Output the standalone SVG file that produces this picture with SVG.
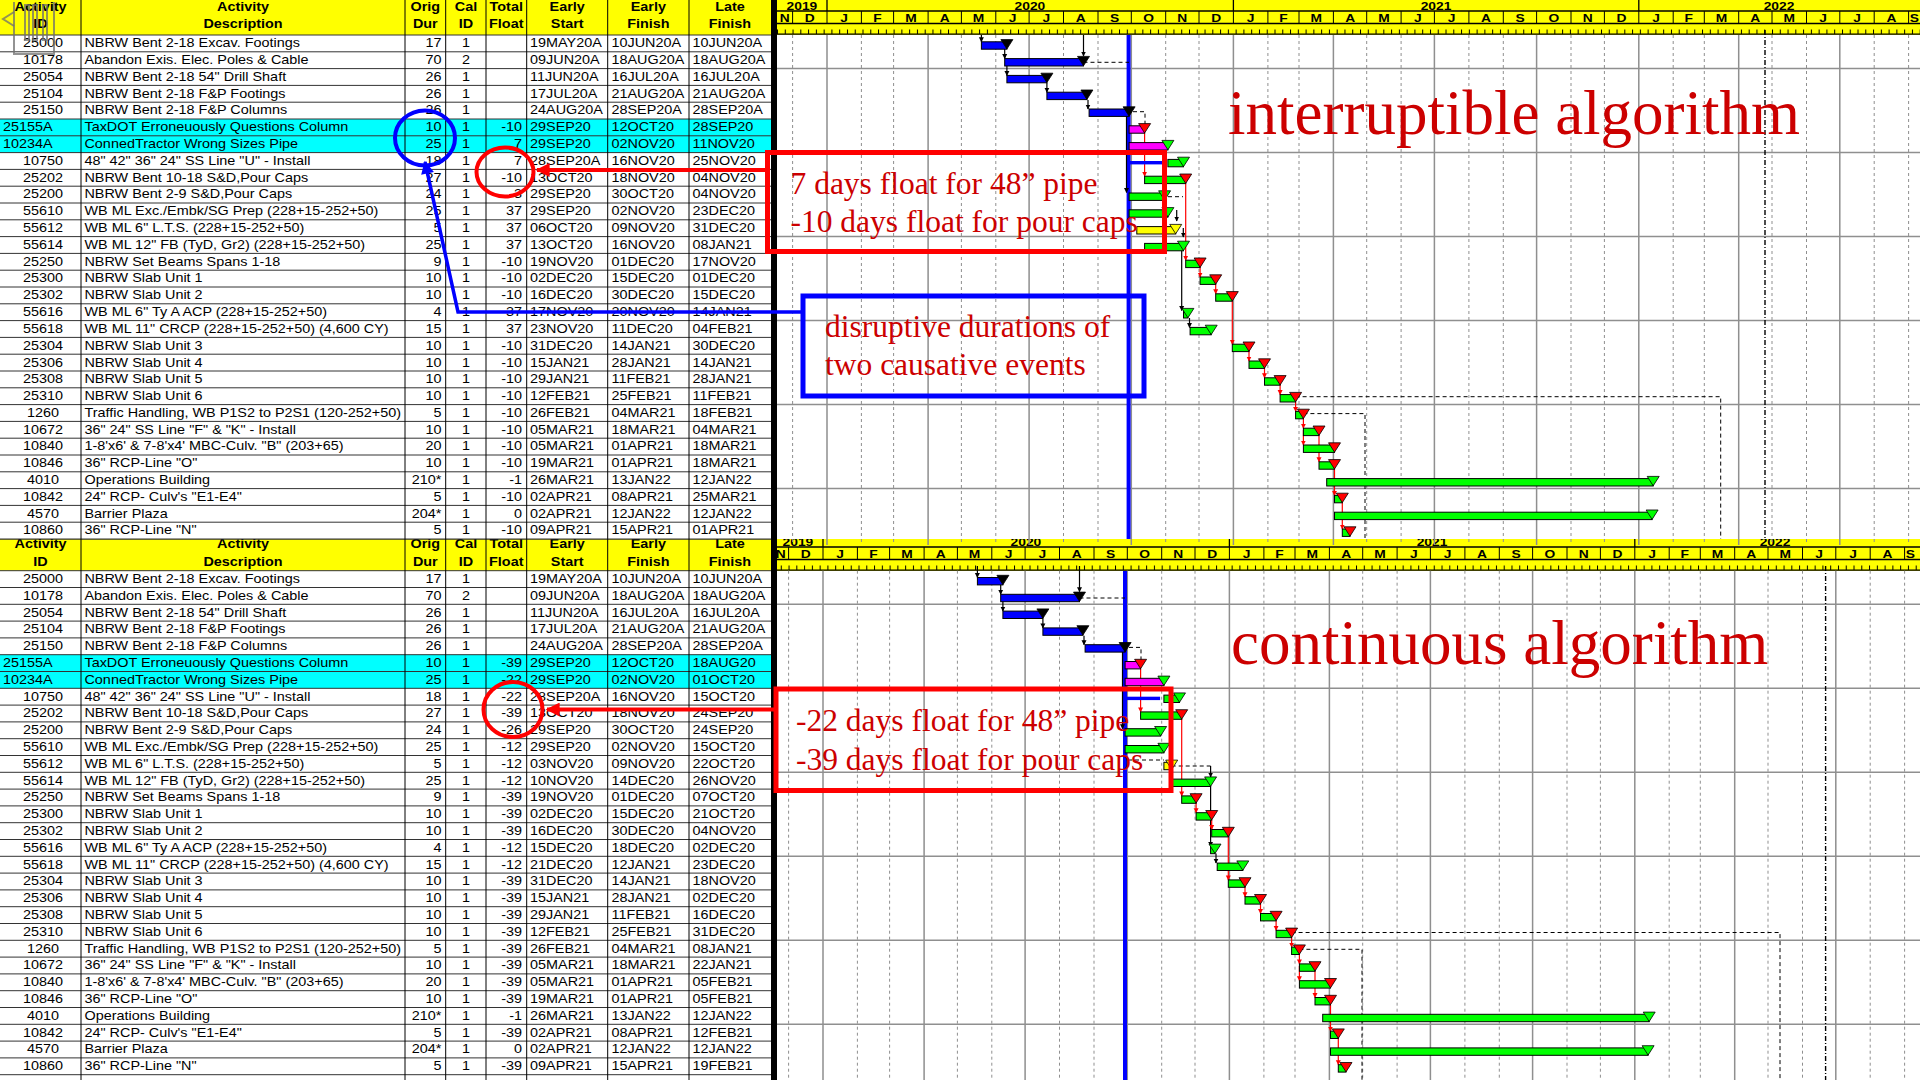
<svg xmlns="http://www.w3.org/2000/svg" xmlns:xlink="http://www.w3.org/1999/xlink" width="1920" height="1080" viewBox="0 0 1920 1080">
<style>
.tx{font-family:"Liberation Sans",Arial,sans-serif;font-size:12px;fill:#000}
.hd{font-family:"Liberation Sans",Arial,sans-serif;font-size:12px;font-weight:bold;fill:#000}
.c{text-anchor:middle}
.r{text-anchor:end}
.mo{font-family:"Liberation Sans",Arial,sans-serif;font-size:11.5px;font-weight:bold;fill:#000;text-anchor:middle}
.gs{stroke:#8f8f8f;stroke-width:1.5;fill:none}
.gd{stroke:#8f8f8f;stroke-width:1;stroke-dasharray:3 3;fill:none}
.bb{fill:#0000ff;stroke:#000;stroke-width:1}
.bg{fill:#00ff00;stroke:#000;stroke-width:1}
.bp{fill:#ff00ff;stroke:#000;stroke-width:1}
.by{fill:#ffff00;stroke:#000;stroke-width:1}
.tk{fill:#000;stroke:#000;stroke-width:.8}
.tr{fill:#ff0000;stroke:#000;stroke-width:.8}
.tg{fill:#00ff00;stroke:#000;stroke-width:.8}
.ty{fill:#ffff00;stroke:#000;stroke-width:.8}
.lk{stroke:#000;stroke-width:1.2;fill:none;marker-end:url(#mk)}
.lr{stroke:#ff0000;stroke-width:1.2;fill:none;marker-end:url(#mr)}
.ld{stroke:#000;stroke-width:1;fill:none;stroke-dasharray:4 3}
.dd{stroke:#000;stroke-width:1.4;fill:none;stroke-dasharray:5 2 1 2}
.dl{stroke:#0000ff;stroke-width:4;fill:none}
.rl{stroke:#333;stroke-width:1;fill:none}
.sf{font-family:"Liberation Serif","Times New Roman",serif;fill:#cc0000}
</style>
<defs>
<pattern id="tick" x="777" y="0" width="7.7735" height="2000" patternUnits="userSpaceOnUse"><rect width="1" height="2000" fill="#000"/></pattern>
<marker id="mk" viewBox="0 0 10 10" refX="9" refY="5" markerWidth="5" markerHeight="6" markerUnits="userSpaceOnUse" orient="auto"><path d="M0,0L10,5L0,10z" fill="#000"/></marker>
<marker id="mr" viewBox="0 0 10 10" refX="9" refY="5" markerWidth="5" markerHeight="6" markerUnits="userSpaceOnUse" orient="auto"><path d="M0,0L10,5L0,10z" fill="#ff0000"/></marker>
<marker id="mR" viewBox="0 0 10 10" refX="9" refY="5" markerWidth="15" markerHeight="14" markerUnits="userSpaceOnUse" orient="auto"><path d="M0,0L10,5L0,10z" fill="#ff0000"/></marker>
<marker id="mB" viewBox="0 0 10 10" refX="9" refY="5" markerWidth="16" markerHeight="13" markerUnits="userSpaceOnUse" orient="auto-start-reverse"><path d="M0,0L10,5L0,10z" fill="#0000ff"/></marker>
<path id="tri" d="M-6,4.6H6L0,14Z"/>
<g id="grid">
<path class="gd" d="M792.6 0V510M861.4 0V510M893.6 0V510M961.4 0V510M995.8 0V510M1063.5 0V510M1098 0V510M1165.7 0V510M1199 0V510M1267.9 0V510M1299 0V510M1366.7 0V510M1401.1 0V510M1468.9 0V510M1503.3 0V510M1571 0V510M1604.4 0V510M1673.2 0V510M1704.3 0V510M1772 0V510M1806.5 0V510M1874.2 0V510M1908.6 0V510"/>
<path class="gs" d="M827 0V510M928.1 0V510M1029.1 0V510M1131.3 0V510M1233.4 0V510M1333.4 0V510M1434.4 0V510M1536.6 0V510M1638.8 0V510M1738.7 0V510M1839.8 0V510M777 33.6H1930M777 117.6H1930M777 201.6H1930M777 285.6H1930M777 369.6H1930M777 453.6H1930"/>
</g>
<g id="hdr">
<rect x="777" y="-35" width="1150" height="35" fill="#ffff00"/>
<rect x="777" y="-5.5" width="1150" height="4.5" fill="url(#tick)"/>
<path d="M777 -24H1927M777 -11.5H1927M777 -0.8H1927" stroke="#000" stroke-width="1.3" fill="none"/>
<path d="M827 -35V-24M1233.4 -35V-24M1638.8 -35V-24" stroke="#000" stroke-width="1.3" fill="none"/>
<path d="M792.6 -24V-11.5M827 -24V-11.5M861.4 -24V-11.5M893.6 -24V-11.5M928.1 -24V-11.5M961.4 -24V-11.5M995.8 -24V-11.5M1029.1 -24V-11.5M1063.5 -24V-11.5M1098 -24V-11.5M1131.3 -24V-11.5M1165.7 -24V-11.5M1199 -24V-11.5M1233.4 -24V-11.5M1267.9 -24V-11.5M1299 -24V-11.5M1333.4 -24V-11.5M1366.7 -24V-11.5M1401.1 -24V-11.5M1434.4 -24V-11.5M1468.9 -24V-11.5M1503.3 -24V-11.5M1536.6 -24V-11.5M1571 -24V-11.5M1604.4 -24V-11.5M1638.8 -24V-11.5M1673.2 -24V-11.5M1704.3 -24V-11.5M1738.7 -24V-11.5M1772 -24V-11.5M1806.5 -24V-11.5M1839.8 -24V-11.5M1874.2 -24V-11.5M1908.6 -24V-11.5" stroke="#000" stroke-width="1" fill="none"/>
<g transform="scale(1.2,1)">
<text class="mo" y="-25.5"><tspan x="668.3">2019</tspan><tspan x="858.3">2020</tspan><tspan x="1196.7">2021</tspan><tspan x="1482.5">2022</tspan></text>
<text class="mo" y="-13.5"><tspan x="654">N</tspan><tspan x="674.8">D</tspan><tspan x="703.5">J</tspan><tspan x="731.25">F</tspan><tspan x="759.1">M</tspan><tspan x="787.3">A</tspan><tspan x="815.5">M</tspan><tspan x="843.75">J</tspan><tspan x="871.9">J</tspan><tspan x="900.7">A</tspan><tspan x="928.9">S</tspan><tspan x="957.1">O</tspan><tspan x="985.3">N</tspan><tspan x="1013.5">D</tspan><tspan x="1042.25">J</tspan><tspan x="1069.6">F</tspan><tspan x="1096.8">M</tspan><tspan x="1125.1">A</tspan><tspan x="1153.25">M</tspan><tspan x="1181.5">J</tspan><tspan x="1209.75">J</tspan><tspan x="1238.4">A</tspan><tspan x="1266.7">S</tspan><tspan x="1294.8">O</tspan><tspan x="1323.1">N</tspan><tspan x="1351.3">D</tspan><tspan x="1380">J</tspan><tspan x="1407.3">F</tspan><tspan x="1434.6">M</tspan><tspan x="1462.8">A</tspan><tspan x="1491.1">M</tspan><tspan x="1519.3">J</tspan><tspan x="1547.5">J</tspan><tspan x="1576.2">A</tspan><tspan x="1595.25">S</tspan></text>
</g>
</g>
</defs>
<rect width="1920" height="1080" fill="#fff"/>

<!-- ================= BOTTOM SECTION: continuous algorithm ================= -->
<g id="bottom-section">
<rect x="0" y="539" width="771" height="31.7" fill="#ffff00"/>
<rect x="0" y="654.7" width="771" height="33.6" fill="#00ffff"/>
<use href="#hdr" transform="translate(-4,571)"/>
<use href="#grid" transform="translate(-4,570.7)"/>
<path class="dl" d="M1125 571V1080"/>
<path class="dd" d="M1825.6 566V1080"/>
<g id="bottom-links">
<path class="ld" d="M1079.5 598H1125M1129 647.4H1141V661M1128 760H1163.9M1171.7 766H1210.6M1291.6 932.5H1780V1080M1299.4 949.3H1362V1080"/>
<path class="lk" d="M977.4 566V577.5"/><path class="lk" d="M1000.7 584.7V594.3"/><path class="lk" d="M1002.9 598.7V611.1"/><path class="lk" d="M1042.9 618.7V627.9"/><path class="lk" d="M1084 635.7V644.7"/><path class="lk" d="M1079.5 566V591.7"/><path class="lk" d="M1122.5 651.7V728.7"/><path class="lk" d="M1210.6 766V777"/><path class="lk" d="M1210.6 786.3V846.3"/><path class="lk" d="M1216 853.5V863.1"/>
<path class="lr" d="M1140.6 668.7V711.9"/><path class="lr" d="M1181.7 719.1V795.9"/><path class="lr" d="M1196.1 803.1V812.7"/><path class="lr" d="M1211.7 819.9V829.5"/><path class="lr" d="M1228.3 836.7V879.9"/><path class="lr" d="M1245 887.1V896.7"/><path class="lr" d="M1260.5 903.9V913.5"/><path class="lr" d="M1276.1 920.7V930.3"/><path class="lr" d="M1291.6 937.5V947.1"/><path class="lr" d="M1299.4 954.3V963.9"/><path class="lr" d="M1299.4 966V980.7"/><path class="lr" d="M1315 971.1V997.5"/><path class="lr" d="M1330.5 1004.7V1031.1"/><path class="lr" d="M1338.3 1038.3V1064.7"/>
</g>
<g id="bottom-bars">
<g id="bb-25000"><rect class="bb" x="977.4" y="577.5" width="25.5" height="7.4"/><use href="#tri" class="tk" x="1002.9" y="570.7"/></g>
<g id="bb-10178"><rect class="bb" x="1000.7" y="594.3" width="78.8" height="7.4"/><use href="#tri" class="tk" x="1079.5" y="587.5"/></g>
<g id="bb-25054"><rect class="bb" x="1002.9" y="611.1" width="40" height="7.4"/><use href="#tri" class="tk" x="1042.9" y="604.3"/></g>
<g id="bb-25104"><rect class="bb" x="1042.9" y="627.9" width="40" height="7.4"/><use href="#tri" class="tk" x="1082.9" y="621.1"/></g>
<g id="bb-25150"><rect class="bb" x="1085.1" y="644.7" width="40" height="7.4"/><use href="#tri" class="tk" x="1125.1" y="637.9"/></g>
<g id="bb-25155A"><rect class="bp" x="1125.1" y="661.5" width="15.5" height="7.4"/><use href="#tri" class="tr" x="1140.6" y="654.7"/></g>
<g id="bb-10234A"><rect class="bp" x="1125.1" y="678.3" width="38.8" height="7.4"/><use href="#tri" class="tg" x="1163.9" y="671.5"/></g>
<g id="bb-10750"><rect x="1125.1" y="696.7" width="35" height="3.4" fill="#0000ff"/><rect class="bg" x="1163.9" y="695.1" width="15.6" height="7.4"/><use href="#tri" class="tg" x="1179.5" y="688.3"/></g>
<g id="bb-25202"><rect class="bg" x="1140.6" y="711.9" width="41.1" height="7.4"/><use href="#tri" class="tr" x="1181.7" y="705.1"/></g>
<g id="bb-25200"><rect class="bg" x="1125.1" y="728.7" width="35.5" height="7.4"/><use href="#tri" class="tg" x="1160.6" y="721.9"/></g>
<g id="bb-55610"><rect class="bg" x="1125.1" y="745.5" width="38.8" height="7.4"/><use href="#tri" class="tg" x="1163.9" y="738.7"/></g>
<g id="bb-55612"><rect class="by" x="1163.9" y="762.3" width="7.8" height="7.4"/><use href="#tri" class="ty" x="1171.7" y="755.5"/></g>
<g id="bb-55614"><rect class="bg" x="1171.7" y="779.1" width="38.9" height="7.4"/><use href="#tri" class="tg" x="1210.6" y="772.3"/></g>
<g id="bb-25250"><rect class="bg" x="1181.7" y="795.9" width="14.4" height="7.4"/><use href="#tri" class="tr" x="1196.1" y="789.1"/></g>
<g id="bb-25300"><rect class="bg" x="1196.1" y="812.7" width="15.6" height="7.4"/><use href="#tri" class="tr" x="1211.7" y="805.9"/></g>
<g id="bb-25302"><rect class="bg" x="1211.7" y="829.5" width="16.6" height="7.4"/><use href="#tri" class="tr" x="1228.3" y="822.7"/></g>
<g id="bb-55616"><rect class="bg" x="1210.6" y="846.3" width="4.4" height="7.4"/><use href="#tri" class="tg" x="1215" y="839.5"/></g>
<g id="bb-55618"><rect class="bg" x="1217.2" y="863.1" width="25.6" height="7.4"/><use href="#tri" class="tg" x="1242.8" y="856.3"/></g>
<g id="bb-25304"><rect class="bg" x="1228.3" y="879.9" width="16.7" height="7.4"/><use href="#tri" class="tr" x="1245" y="873.1"/></g>
<g id="bb-25306"><rect class="bg" x="1245" y="896.7" width="15.5" height="7.4"/><use href="#tri" class="tr" x="1260.5" y="889.9"/></g>
<g id="bb-25308"><rect class="bg" x="1260.5" y="913.5" width="15.6" height="7.4"/><use href="#tri" class="tr" x="1276.1" y="906.7"/></g>
<g id="bb-25310"><rect class="bg" x="1276.1" y="930.3" width="15.5" height="7.4"/><use href="#tri" class="tr" x="1291.6" y="923.5"/></g>
<g id="bb-1260"><rect class="bg" x="1291.6" y="947.1" width="7.8" height="7.4"/><use href="#tri" class="tr" x="1299.4" y="940.3"/></g>
<g id="bb-10672"><rect class="bg" x="1299.4" y="963.9" width="15.6" height="7.4"/><use href="#tri" class="tr" x="1315" y="957.1"/></g>
<g id="bb-10840"><rect class="bg" x="1299.4" y="980.7" width="31.1" height="7.4"/><use href="#tri" class="tr" x="1330.5" y="973.9"/></g>
<g id="bb-10846"><rect class="bg" x="1315" y="997.5" width="15.5" height="7.4"/><use href="#tri" class="tr" x="1330.5" y="990.7"/></g>
<g id="bb-4010"><rect class="bg" x="1322.7" y="1014.3" width="326.5" height="7.4"/><use href="#tri" class="tg" x="1649.2" y="1007.5"/></g>
<g id="bb-10842"><rect class="bg" x="1330.5" y="1031.1" width="7.8" height="7.4"/><use href="#tri" class="tr" x="1338.3" y="1024.3"/></g>
<g id="bb-4570"><rect class="bg" x="1330.5" y="1047.9" width="317.6" height="7.4"/><use href="#tri" class="tg" x="1648.1" y="1041.1"/></g>
<g id="bb-10860"><rect class="bg" x="1338.3" y="1064.7" width="7.7" height="7.4"/><use href="#tri" class="tr" x="1346" y="1057.9"/></g>
</g>
<path class="rl" d="M0 539H771M0 570.7H771M0 587.5H771M0 604.3H771M0 621.1H771M0 637.9H771M0 654.7H771M0 671.5H771M0 688.3H771M0 705.1H771M0 721.9H771M0 738.7H771M0 755.5H771M0 772.3H771M0 789.1H771M0 805.9H771M0 822.7H771M0 839.5H771M0 856.3H771M0 873.1H771M0 889.9H771M0 906.7H771M0 923.5H771M0 940.3H771M0 957.1H771M0 973.9H771M0 990.7H771M0 1007.5H771M0 1024.3H771M0 1041.1H771M0 1057.9H771M0 1074.7H771"/>
<g id="bottom-table-text" class="tx" transform="scale(1.2,1)">
<text class="hd" y="548.5"><tspan class="c" x="33.75">Activity</tspan><tspan class="c" x="202.5">Activity</tspan><tspan class="c" x="354.4">Orig</tspan><tspan class="c" x="388.3">Cal</tspan><tspan class="c" x="421.9">Total</tspan><tspan class="c" x="472.7">Early</tspan><tspan class="c" x="540.3">Early</tspan><tspan class="c" x="608.3">Late</tspan></text>
<text class="hd" y="566"><tspan class="c" x="33.75">ID</tspan><tspan class="c" x="202.5">Description</tspan><tspan class="c" x="354.4">Dur</tspan><tspan class="c" x="388.3">ID</tspan><tspan class="c" x="421.9">Float</tspan><tspan class="c" x="472.7">Start</tspan><tspan class="c" x="540.3">Finish</tspan><tspan class="c" x="608.3">Finish</tspan></text>
<g id="b-25000"><text y="583"><tspan class="c" x="35.8">25000</tspan><tspan x="70.4">NBRW Bent 2-18 Excav. Footings</tspan><tspan class="r" x="367.9">17</tspan><tspan class="c" x="388.3">1</tspan><tspan x="441.7">19MAY20A</tspan><tspan x="509.6">10JUN20A</tspan><tspan x="577.1">10JUN20A</tspan></text></g>
<g id="b-10178"><text y="599.8"><tspan class="c" x="35.8">10178</tspan><tspan x="70.4">Abandon Exis. Elec. Poles &amp; Cable</tspan><tspan class="r" x="367.9">70</tspan><tspan class="c" x="388.3">2</tspan><tspan x="441.7">09JUN20A</tspan><tspan x="509.6">18AUG20A</tspan><tspan x="577.1">18AUG20A</tspan></text></g>
<g id="b-25054"><text y="616.6"><tspan class="c" x="35.8">25054</tspan><tspan x="70.4">NBRW Bent 2-18 54" Drill Shaft</tspan><tspan class="r" x="367.9">26</tspan><tspan class="c" x="388.3">1</tspan><tspan x="441.7">11JUN20A</tspan><tspan x="509.6">16JUL20A</tspan><tspan x="577.1">16JUL20A</tspan></text></g>
<g id="b-25104"><text y="633.4"><tspan class="c" x="35.8">25104</tspan><tspan x="70.4">NBRW Bent 2-18 F&amp;P Footings</tspan><tspan class="r" x="367.9">26</tspan><tspan class="c" x="388.3">1</tspan><tspan x="441.7">17JUL20A</tspan><tspan x="509.6">21AUG20A</tspan><tspan x="577.1">21AUG20A</tspan></text></g>
<g id="b-25150"><text y="650.2"><tspan class="c" x="35.8">25150</tspan><tspan x="70.4">NBRW Bent 2-18 F&amp;P Columns</tspan><tspan class="r" x="367.9">26</tspan><tspan class="c" x="388.3">1</tspan><tspan x="441.7">24AUG20A</tspan><tspan x="509.6">28SEP20A</tspan><tspan x="577.1">28SEP20A</tspan></text></g>
<g id="b-25155A"><text y="667"><tspan x="2.5">25155A</tspan><tspan x="70.4">TaxDOT Erroneuously Questions Column</tspan><tspan class="r" x="367.9">10</tspan><tspan class="c" x="388.3">1</tspan><tspan class="r" x="435">-39</tspan><tspan x="441.7">29SEP20</tspan><tspan x="509.6">12OCT20</tspan><tspan x="577.1">18AUG20</tspan></text></g>
<g id="b-10234A"><text y="683.8"><tspan x="2.5">10234A</tspan><tspan x="70.4">ConnedTractor Wrong Sizes Pipe</tspan><tspan class="r" x="367.9">25</tspan><tspan class="c" x="388.3">1</tspan><tspan class="r" x="435">-22</tspan><tspan x="441.7">29SEP20</tspan><tspan x="509.6">02NOV20</tspan><tspan x="577.1">01OCT20</tspan></text></g>
<g id="b-10750"><text y="700.6"><tspan class="c" x="35.8">10750</tspan><tspan x="70.4">48" 42" 36" 24" SS Line "U" - Install</tspan><tspan class="r" x="367.9">18</tspan><tspan class="c" x="388.3">1</tspan><tspan class="r" x="435">-22</tspan><tspan x="441.7">28SEP20A</tspan><tspan x="509.6">16NOV20</tspan><tspan x="577.1">15OCT20</tspan></text></g>
<g id="b-25202"><text y="717.4"><tspan class="c" x="35.8">25202</tspan><tspan x="70.4">NBRW Bent 10-18 S&amp;D,Pour Caps</tspan><tspan class="r" x="367.9">27</tspan><tspan class="c" x="388.3">1</tspan><tspan class="r" x="435">-39</tspan><tspan x="441.7">13OCT20</tspan><tspan x="509.6">18NOV20</tspan><tspan x="577.1">24SEP20</tspan></text></g>
<g id="b-25200"><text y="734.2"><tspan class="c" x="35.8">25200</tspan><tspan x="70.4">NBRW Bent 2-9 S&amp;D,Pour Caps</tspan><tspan class="r" x="367.9">24</tspan><tspan class="c" x="388.3">1</tspan><tspan class="r" x="435">-26</tspan><tspan x="441.7">29SEP20</tspan><tspan x="509.6">30OCT20</tspan><tspan x="577.1">24SEP20</tspan></text></g>
<g id="b-55610"><text y="751"><tspan class="c" x="35.8">55610</tspan><tspan x="70.4">WB ML Exc./Embk/SG Prep (228+15-252+50)</tspan><tspan class="r" x="367.9">25</tspan><tspan class="c" x="388.3">1</tspan><tspan class="r" x="435">-12</tspan><tspan x="441.7">29SEP20</tspan><tspan x="509.6">02NOV20</tspan><tspan x="577.1">15OCT20</tspan></text></g>
<g id="b-55612"><text y="767.8"><tspan class="c" x="35.8">55612</tspan><tspan x="70.4">WB ML 6" L.T.S. (228+15-252+50)</tspan><tspan class="r" x="367.9">5</tspan><tspan class="c" x="388.3">1</tspan><tspan class="r" x="435">-12</tspan><tspan x="441.7">03NOV20</tspan><tspan x="509.6">09NOV20</tspan><tspan x="577.1">22OCT20</tspan></text></g>
<g id="b-55614"><text y="784.6"><tspan class="c" x="35.8">55614</tspan><tspan x="70.4">WB ML 12" FB (TyD, Gr2) (228+15-252+50)</tspan><tspan class="r" x="367.9">25</tspan><tspan class="c" x="388.3">1</tspan><tspan class="r" x="435">-12</tspan><tspan x="441.7">10NOV20</tspan><tspan x="509.6">14DEC20</tspan><tspan x="577.1">26NOV20</tspan></text></g>
<g id="b-25250"><text y="801.4"><tspan class="c" x="35.8">25250</tspan><tspan x="70.4">NBRW Set Beams Spans 1-18</tspan><tspan class="r" x="367.9">9</tspan><tspan class="c" x="388.3">1</tspan><tspan class="r" x="435">-39</tspan><tspan x="441.7">19NOV20</tspan><tspan x="509.6">01DEC20</tspan><tspan x="577.1">07OCT20</tspan></text></g>
<g id="b-25300"><text y="818.2"><tspan class="c" x="35.8">25300</tspan><tspan x="70.4">NBRW Slab Unit 1</tspan><tspan class="r" x="367.9">10</tspan><tspan class="c" x="388.3">1</tspan><tspan class="r" x="435">-39</tspan><tspan x="441.7">02DEC20</tspan><tspan x="509.6">15DEC20</tspan><tspan x="577.1">21OCT20</tspan></text></g>
<g id="b-25302"><text y="835"><tspan class="c" x="35.8">25302</tspan><tspan x="70.4">NBRW Slab Unit 2</tspan><tspan class="r" x="367.9">10</tspan><tspan class="c" x="388.3">1</tspan><tspan class="r" x="435">-39</tspan><tspan x="441.7">16DEC20</tspan><tspan x="509.6">30DEC20</tspan><tspan x="577.1">04NOV20</tspan></text></g>
<g id="b-55616"><text y="851.8"><tspan class="c" x="35.8">55616</tspan><tspan x="70.4">WB ML 6" Ty A ACP (228+15-252+50)</tspan><tspan class="r" x="367.9">4</tspan><tspan class="c" x="388.3">1</tspan><tspan class="r" x="435">-12</tspan><tspan x="441.7">15DEC20</tspan><tspan x="509.6">18DEC20</tspan><tspan x="577.1">02DEC20</tspan></text></g>
<g id="b-55618"><text y="868.6"><tspan class="c" x="35.8">55618</tspan><tspan x="70.4">WB ML 11" CRCP (228+15-252+50) (4,600 CY)</tspan><tspan class="r" x="367.9">15</tspan><tspan class="c" x="388.3">1</tspan><tspan class="r" x="435">-12</tspan><tspan x="441.7">21DEC20</tspan><tspan x="509.6">12JAN21</tspan><tspan x="577.1">23DEC20</tspan></text></g>
<g id="b-25304"><text y="885.4"><tspan class="c" x="35.8">25304</tspan><tspan x="70.4">NBRW Slab Unit 3</tspan><tspan class="r" x="367.9">10</tspan><tspan class="c" x="388.3">1</tspan><tspan class="r" x="435">-39</tspan><tspan x="441.7">31DEC20</tspan><tspan x="509.6">14JAN21</tspan><tspan x="577.1">18NOV20</tspan></text></g>
<g id="b-25306"><text y="902.2"><tspan class="c" x="35.8">25306</tspan><tspan x="70.4">NBRW Slab Unit 4</tspan><tspan class="r" x="367.9">10</tspan><tspan class="c" x="388.3">1</tspan><tspan class="r" x="435">-39</tspan><tspan x="441.7">15JAN21</tspan><tspan x="509.6">28JAN21</tspan><tspan x="577.1">02DEC20</tspan></text></g>
<g id="b-25308"><text y="919"><tspan class="c" x="35.8">25308</tspan><tspan x="70.4">NBRW Slab Unit 5</tspan><tspan class="r" x="367.9">10</tspan><tspan class="c" x="388.3">1</tspan><tspan class="r" x="435">-39</tspan><tspan x="441.7">29JAN21</tspan><tspan x="509.6">11FEB21</tspan><tspan x="577.1">16DEC20</tspan></text></g>
<g id="b-25310"><text y="935.8"><tspan class="c" x="35.8">25310</tspan><tspan x="70.4">NBRW Slab Unit 6</tspan><tspan class="r" x="367.9">10</tspan><tspan class="c" x="388.3">1</tspan><tspan class="r" x="435">-39</tspan><tspan x="441.7">12FEB21</tspan><tspan x="509.6">25FEB21</tspan><tspan x="577.1">31DEC20</tspan></text></g>
<g id="b-1260"><text y="952.6"><tspan class="c" x="35.8">1260</tspan><tspan x="70.4">Traffic Handling, WB P1S2 to P2S1 (120-252+50)</tspan><tspan class="r" x="367.9">5</tspan><tspan class="c" x="388.3">1</tspan><tspan class="r" x="435">-39</tspan><tspan x="441.7">26FEB21</tspan><tspan x="509.6">04MAR21</tspan><tspan x="577.1">08JAN21</tspan></text></g>
<g id="b-10672"><text y="969.4"><tspan class="c" x="35.8">10672</tspan><tspan x="70.4">36" 24" SS Line "F" &amp; "K" - Install</tspan><tspan class="r" x="367.9">10</tspan><tspan class="c" x="388.3">1</tspan><tspan class="r" x="435">-39</tspan><tspan x="441.7">05MAR21</tspan><tspan x="509.6">18MAR21</tspan><tspan x="577.1">22JAN21</tspan></text></g>
<g id="b-10840"><text y="986.2"><tspan class="c" x="35.8">10840</tspan><tspan x="70.4">1-8'x6' &amp; 7-8'x4' MBC-Culv. "B" (203+65)</tspan><tspan class="r" x="367.9">20</tspan><tspan class="c" x="388.3">1</tspan><tspan class="r" x="435">-39</tspan><tspan x="441.7">05MAR21</tspan><tspan x="509.6">01APR21</tspan><tspan x="577.1">05FEB21</tspan></text></g>
<g id="b-10846"><text y="1003"><tspan class="c" x="35.8">10846</tspan><tspan x="70.4">36" RCP-Line "O"</tspan><tspan class="r" x="367.9">10</tspan><tspan class="c" x="388.3">1</tspan><tspan class="r" x="435">-39</tspan><tspan x="441.7">19MAR21</tspan><tspan x="509.6">01APR21</tspan><tspan x="577.1">05FEB21</tspan></text></g>
<g id="b-4010"><text y="1019.8"><tspan class="c" x="35.8">4010</tspan><tspan x="70.4">Operations Building</tspan><tspan class="r" x="367.9">210*</tspan><tspan class="c" x="388.3">1</tspan><tspan class="r" x="435">-1</tspan><tspan x="441.7">26MAR21</tspan><tspan x="509.6">13JAN22</tspan><tspan x="577.1">12JAN22</tspan></text></g>
<g id="b-10842"><text y="1036.6"><tspan class="c" x="35.8">10842</tspan><tspan x="70.4">24" RCP- Culv's "E1-E4"</tspan><tspan class="r" x="367.9">5</tspan><tspan class="c" x="388.3">1</tspan><tspan class="r" x="435">-39</tspan><tspan x="441.7">02APR21</tspan><tspan x="509.6">08APR21</tspan><tspan x="577.1">12FEB21</tspan></text></g>
<g id="b-4570"><text y="1053.4"><tspan class="c" x="35.8">4570</tspan><tspan x="70.4">Barrier Plaza</tspan><tspan class="r" x="367.9">204*</tspan><tspan class="c" x="388.3">1</tspan><tspan class="r" x="435">0</tspan><tspan x="441.7">02APR21</tspan><tspan x="509.6">12JAN22</tspan><tspan x="577.1">12JAN22</tspan></text></g>
<g id="b-10860"><text y="1070.2"><tspan class="c" x="35.8">10860</tspan><tspan x="70.4">36" RCP-Line "N"</tspan><tspan class="r" x="367.9">5</tspan><tspan class="c" x="388.3">1</tspan><tspan class="r" x="435">-39</tspan><tspan x="441.7">09APR21</tspan><tspan x="509.6">15APR21</tspan><tspan x="577.1">19FEB21</tspan></text></g>
</g>
</g>

<!-- ================= TOP SECTION: interruptible algorithm ================= -->
<g id="top-section">
<rect x="0" y="0" width="1920" height="539" fill="#fff"/>
<rect x="0" y="0" width="771" height="35" fill="#ffff00"/>
<rect x="0" y="119" width="771" height="33.6" fill="#00ffff"/>
<use href="#hdr" transform="translate(0,35)"/>
<use href="#grid" transform="translate(0,35)"/>
<path class="dl" d="M1128.6 35V539"/>
<path class="dd" d="M1765 30V539"/>
<g id="top-links">
<path class="ld" d="M1083.5 62.3H1129M1133 111.7H1145V125M1168 196.7H1183M1295.6 396.7H1720.7V539M1303.4 413.6H1365V539"/>
<path class="lk" d="M981.4 35V41.8"/><path class="lk" d="M1004.7 49V58.6"/><path class="lk" d="M1006.9 63V75.4"/><path class="lk" d="M1046.9 83V92.2"/><path class="lk" d="M1088 100V109"/><path class="lk" d="M1083.5 35V56"/><path class="lk" d="M1126.5 116V192.5"/><path class="lk" d="M1176.7 210V221"/><path class="lk" d="M1183.3 228V237"/><path class="lk" d="M1181.7 250.6V310.6"/><path class="lk" d="M1189.5 318V327.4"/>
<path class="lr" d="M1144.6 133V176.2"/><path class="lr" d="M1185.7 183.4V260.2"/><path class="lr" d="M1200.1 267.4V277"/><path class="lr" d="M1215.7 284.2V293.8"/><path class="lr" d="M1232.3 301V344.2"/><path class="lr" d="M1249 351.4V361"/><path class="lr" d="M1264.5 368.2V377.8"/><path class="lr" d="M1280.1 385V394.6"/><path class="lr" d="M1295.6 401.8V411.4"/><path class="lr" d="M1303.4 418.6V428.2"/><path class="lr" d="M1303.4 430V445"/><path class="lr" d="M1319 435.4V461.8"/><path class="lr" d="M1334.5 469V495.4"/><path class="lr" d="M1342.3 502.6V529"/>
</g>
<g id="top-bars">
<g id="tb-25000"><rect class="bb" x="981.4" y="41.8" width="25.5" height="7.4"/><use href="#tri" class="tk" x="1006.9" y="35"/></g>
<g id="tb-10178"><rect class="bb" x="1004.7" y="58.6" width="78.8" height="7.4"/><use href="#tri" class="tk" x="1083.5" y="51.8"/></g>
<g id="tb-25054"><rect class="bb" x="1006.9" y="75.4" width="40" height="7.4"/><use href="#tri" class="tk" x="1046.9" y="68.6"/></g>
<g id="tb-25104"><rect class="bb" x="1046.9" y="92.2" width="40" height="7.4"/><use href="#tri" class="tk" x="1086.9" y="85.4"/></g>
<g id="tb-25150"><rect class="bb" x="1089.1" y="109" width="40" height="7.4"/><use href="#tri" class="tk" x="1129.1" y="102.2"/></g>
<g id="tb-25155A"><rect class="bp" x="1129.1" y="125.8" width="15.5" height="7.4"/><use href="#tri" class="tr" x="1144.6" y="119"/></g>
<g id="tb-10234A"><rect class="bp" x="1129.1" y="142.6" width="38.8" height="7.4"/><use href="#tri" class="tg" x="1167.9" y="135.8"/></g>
<g id="tb-10750"><rect x="1129.1" y="161" width="35" height="3.4" fill="#0000ff"/><rect class="bg" x="1167.9" y="159.4" width="15.6" height="7.4"/><use href="#tri" class="tg" x="1183.5" y="152.6"/></g>
<g id="tb-25202"><rect class="bg" x="1144.6" y="176.2" width="41.1" height="7.4"/><use href="#tri" class="tr" x="1185.7" y="169.4"/></g>
<g id="tb-25200"><rect class="bg" x="1129.1" y="193" width="35.5" height="7.4"/><use href="#tri" class="tg" x="1164.6" y="186.2"/></g>
<g id="tb-55610"><rect class="bg" x="1129.1" y="209.8" width="38.8" height="7.4"/><use href="#tri" class="tg" x="1167.9" y="203"/></g>
<g id="tb-55612"><rect class="by" x="1136.8" y="226.6" width="38.9" height="7.4"/><use href="#tri" class="ty" x="1175.7" y="219.8"/></g>
<g id="tb-55614"><rect class="bg" x="1144.6" y="243.4" width="38.9" height="7.4"/><use href="#tri" class="tg" x="1183.5" y="236.6"/></g>
<g id="tb-25250"><rect class="bg" x="1185.7" y="260.2" width="14.4" height="7.4"/><use href="#tri" class="tr" x="1200.1" y="253.4"/></g>
<g id="tb-25300"><rect class="bg" x="1200.1" y="277" width="15.6" height="7.4"/><use href="#tri" class="tr" x="1215.7" y="270.2"/></g>
<g id="tb-25302"><rect class="bg" x="1215.7" y="293.8" width="16.6" height="7.4"/><use href="#tri" class="tr" x="1232.3" y="287"/></g>
<g id="tb-55616"><rect class="bg" x="1183.5" y="310.6" width="4.4" height="7.4"/><use href="#tri" class="tg" x="1187.9" y="303.8"/></g>
<g id="tb-55618"><rect class="bg" x="1190.1" y="327.4" width="21.1" height="7.4"/><use href="#tri" class="tg" x="1211.2" y="320.6"/></g>
<g id="tb-25304"><rect class="bg" x="1232.3" y="344.2" width="16.7" height="7.4"/><use href="#tri" class="tr" x="1249" y="337.4"/></g>
<g id="tb-25306"><rect class="bg" x="1249" y="361" width="15.5" height="7.4"/><use href="#tri" class="tr" x="1264.5" y="354.2"/></g>
<g id="tb-25308"><rect class="bg" x="1264.5" y="377.8" width="15.6" height="7.4"/><use href="#tri" class="tr" x="1280.1" y="371"/></g>
<g id="tb-25310"><rect class="bg" x="1280.1" y="394.6" width="15.5" height="7.4"/><use href="#tri" class="tr" x="1295.6" y="387.8"/></g>
<g id="tb-1260"><rect class="bg" x="1295.6" y="411.4" width="7.8" height="7.4"/><use href="#tri" class="tr" x="1303.4" y="404.6"/></g>
<g id="tb-10672"><rect class="bg" x="1303.4" y="428.2" width="15.6" height="7.4"/><use href="#tri" class="tr" x="1319" y="421.4"/></g>
<g id="tb-10840"><rect class="bg" x="1303.4" y="445" width="31.1" height="7.4"/><use href="#tri" class="tr" x="1334.5" y="438.2"/></g>
<g id="tb-10846"><rect class="bg" x="1319" y="461.8" width="15.5" height="7.4"/><use href="#tri" class="tr" x="1334.5" y="455"/></g>
<g id="tb-4010"><rect class="bg" x="1326.7" y="478.6" width="326.5" height="7.4"/><use href="#tri" class="tg" x="1653.2" y="471.8"/></g>
<g id="tb-10842"><rect class="bg" x="1334.5" y="495.4" width="7.8" height="7.4"/><use href="#tri" class="tr" x="1342.3" y="488.6"/></g>
<g id="tb-4570"><rect class="bg" x="1334.5" y="512.2" width="317.6" height="7.4"/><use href="#tri" class="tg" x="1652.1" y="505.4"/></g>
<g id="tb-10860"><rect class="bg" x="1342.3" y="529" width="7.7" height="7.4"/><use href="#tri" class="tr" x="1350" y="522.2"/></g>
</g>
<path class="rl" d="M0 35H771M0 51.8H771M0 68.6H771M0 85.4H771M0 102.2H771M0 119H771M0 135.8H771M0 152.6H771M0 169.4H771M0 186.2H771M0 203H771M0 219.8H771M0 236.6H771M0 253.4H771M0 270.2H771M0 287H771M0 303.8H771M0 320.6H771M0 337.4H771M0 354.2H771M0 371H771M0 387.8H771M0 404.6H771M0 421.4H771M0 438.2H771M0 455H771M0 471.8H771M0 488.6H771M0 505.4H771M0 522.2H771M0 539H771"/>
<g id="top-table-text" class="tx" transform="scale(1.2,1)">
<text class="hd" y="11.5"><tspan class="c" x="33.75">Activity</tspan><tspan class="c" x="202.5">Activity</tspan><tspan class="c" x="354.4">Orig</tspan><tspan class="c" x="388.3">Cal</tspan><tspan class="c" x="421.9">Total</tspan><tspan class="c" x="472.7">Early</tspan><tspan class="c" x="540.3">Early</tspan><tspan class="c" x="608.3">Late</tspan></text>
<text class="hd" y="28.5"><tspan class="c" x="33.75">ID</tspan><tspan class="c" x="202.5">Description</tspan><tspan class="c" x="354.4">Dur</tspan><tspan class="c" x="388.3">ID</tspan><tspan class="c" x="421.9">Float</tspan><tspan class="c" x="472.7">Start</tspan><tspan class="c" x="540.3">Finish</tspan><tspan class="c" x="608.3">Finish</tspan></text>
<g id="t-25000"><text y="47.3"><tspan class="c" x="35.8">25000</tspan><tspan x="70.4">NBRW Bent 2-18 Excav. Footings</tspan><tspan class="r" x="367.9">17</tspan><tspan class="c" x="388.3">1</tspan><tspan x="441.7">19MAY20A</tspan><tspan x="509.6">10JUN20A</tspan><tspan x="577.1">10JUN20A</tspan></text></g>
<g id="t-10178"><text y="64.1"><tspan class="c" x="35.8">10178</tspan><tspan x="70.4">Abandon Exis. Elec. Poles &amp; Cable</tspan><tspan class="r" x="367.9">70</tspan><tspan class="c" x="388.3">2</tspan><tspan x="441.7">09JUN20A</tspan><tspan x="509.6">18AUG20A</tspan><tspan x="577.1">18AUG20A</tspan></text></g>
<g id="t-25054"><text y="80.9"><tspan class="c" x="35.8">25054</tspan><tspan x="70.4">NBRW Bent 2-18 54" Drill Shaft</tspan><tspan class="r" x="367.9">26</tspan><tspan class="c" x="388.3">1</tspan><tspan x="441.7">11JUN20A</tspan><tspan x="509.6">16JUL20A</tspan><tspan x="577.1">16JUL20A</tspan></text></g>
<g id="t-25104"><text y="97.7"><tspan class="c" x="35.8">25104</tspan><tspan x="70.4">NBRW Bent 2-18 F&amp;P Footings</tspan><tspan class="r" x="367.9">26</tspan><tspan class="c" x="388.3">1</tspan><tspan x="441.7">17JUL20A</tspan><tspan x="509.6">21AUG20A</tspan><tspan x="577.1">21AUG20A</tspan></text></g>
<g id="t-25150"><text y="114.5"><tspan class="c" x="35.8">25150</tspan><tspan x="70.4">NBRW Bent 2-18 F&amp;P Columns</tspan><tspan class="r" x="367.9">26</tspan><tspan class="c" x="388.3">1</tspan><tspan x="441.7">24AUG20A</tspan><tspan x="509.6">28SEP20A</tspan><tspan x="577.1">28SEP20A</tspan></text></g>
<g id="t-25155A"><text y="131.3"><tspan x="2.5">25155A</tspan><tspan x="70.4">TaxDOT Erroneuously Questions Column</tspan><tspan class="r" x="367.9">10</tspan><tspan class="c" x="388.3">1</tspan><tspan class="r" x="435">-10</tspan><tspan x="441.7">29SEP20</tspan><tspan x="509.6">12OCT20</tspan><tspan x="577.1">28SEP20</tspan></text></g>
<g id="t-10234A"><text y="148.1"><tspan x="2.5">10234A</tspan><tspan x="70.4">ConnedTractor Wrong Sizes Pipe</tspan><tspan class="r" x="367.9">25</tspan><tspan class="c" x="388.3">1</tspan><tspan class="r" x="435">7</tspan><tspan x="441.7">29SEP20</tspan><tspan x="509.6">02NOV20</tspan><tspan x="577.1">11NOV20</tspan></text></g>
<g id="t-10750"><text y="164.9"><tspan class="c" x="35.8">10750</tspan><tspan x="70.4">48" 42" 36" 24" SS Line "U" - Install</tspan><tspan class="r" x="367.9">18</tspan><tspan class="c" x="388.3">1</tspan><tspan class="r" x="435">7</tspan><tspan x="441.7">28SEP20A</tspan><tspan x="509.6">16NOV20</tspan><tspan x="577.1">25NOV20</tspan></text></g>
<g id="t-25202"><text y="181.7"><tspan class="c" x="35.8">25202</tspan><tspan x="70.4">NBRW Bent 10-18 S&amp;D,Pour Caps</tspan><tspan class="r" x="367.9">27</tspan><tspan class="c" x="388.3">1</tspan><tspan class="r" x="435">-10</tspan><tspan x="441.7">13OCT20</tspan><tspan x="509.6">18NOV20</tspan><tspan x="577.1">04NOV20</tspan></text></g>
<g id="t-25200"><text y="198.5"><tspan class="c" x="35.8">25200</tspan><tspan x="70.4">NBRW Bent 2-9 S&amp;D,Pour Caps</tspan><tspan class="r" x="367.9">24</tspan><tspan class="c" x="388.3">1</tspan><tspan class="r" x="435">3</tspan><tspan x="441.7">29SEP20</tspan><tspan x="509.6">30OCT20</tspan><tspan x="577.1">04NOV20</tspan></text></g>
<g id="t-55610"><text y="215.3"><tspan class="c" x="35.8">55610</tspan><tspan x="70.4">WB ML Exc./Embk/SG Prep (228+15-252+50)</tspan><tspan class="r" x="367.9">25</tspan><tspan class="c" x="388.3">1</tspan><tspan class="r" x="435">37</tspan><tspan x="441.7">29SEP20</tspan><tspan x="509.6">02NOV20</tspan><tspan x="577.1">23DEC20</tspan></text></g>
<g id="t-55612"><text y="232.1"><tspan class="c" x="35.8">55612</tspan><tspan x="70.4">WB ML 6" L.T.S. (228+15-252+50)</tspan><tspan class="r" x="367.9">5</tspan><tspan class="c" x="388.3">1</tspan><tspan class="r" x="435">37</tspan><tspan x="441.7">06OCT20</tspan><tspan x="509.6">09NOV20</tspan><tspan x="577.1">31DEC20</tspan></text></g>
<g id="t-55614"><text y="248.9"><tspan class="c" x="35.8">55614</tspan><tspan x="70.4">WB ML 12" FB (TyD, Gr2) (228+15-252+50)</tspan><tspan class="r" x="367.9">25</tspan><tspan class="c" x="388.3">1</tspan><tspan class="r" x="435">37</tspan><tspan x="441.7">13OCT20</tspan><tspan x="509.6">16NOV20</tspan><tspan x="577.1">08JAN21</tspan></text></g>
<g id="t-25250"><text y="265.7"><tspan class="c" x="35.8">25250</tspan><tspan x="70.4">NBRW Set Beams Spans 1-18</tspan><tspan class="r" x="367.9">9</tspan><tspan class="c" x="388.3">1</tspan><tspan class="r" x="435">-10</tspan><tspan x="441.7">19NOV20</tspan><tspan x="509.6">01DEC20</tspan><tspan x="577.1">17NOV20</tspan></text></g>
<g id="t-25300"><text y="282.5"><tspan class="c" x="35.8">25300</tspan><tspan x="70.4">NBRW Slab Unit 1</tspan><tspan class="r" x="367.9">10</tspan><tspan class="c" x="388.3">1</tspan><tspan class="r" x="435">-10</tspan><tspan x="441.7">02DEC20</tspan><tspan x="509.6">15DEC20</tspan><tspan x="577.1">01DEC20</tspan></text></g>
<g id="t-25302"><text y="299.3"><tspan class="c" x="35.8">25302</tspan><tspan x="70.4">NBRW Slab Unit 2</tspan><tspan class="r" x="367.9">10</tspan><tspan class="c" x="388.3">1</tspan><tspan class="r" x="435">-10</tspan><tspan x="441.7">16DEC20</tspan><tspan x="509.6">30DEC20</tspan><tspan x="577.1">15DEC20</tspan></text></g>
<g id="t-55616"><text y="316.1"><tspan class="c" x="35.8">55616</tspan><tspan x="70.4">WB ML 6" Ty A ACP (228+15-252+50)</tspan><tspan class="r" x="367.9">4</tspan><tspan class="c" x="388.3">1</tspan><tspan class="r" x="435">37</tspan><tspan x="441.7">17NOV20</tspan><tspan x="509.6">20NOV20</tspan><tspan x="577.1">14JAN21</tspan></text></g>
<g id="t-55618"><text y="332.9"><tspan class="c" x="35.8">55618</tspan><tspan x="70.4">WB ML 11" CRCP (228+15-252+50) (4,600 CY)</tspan><tspan class="r" x="367.9">15</tspan><tspan class="c" x="388.3">1</tspan><tspan class="r" x="435">37</tspan><tspan x="441.7">23NOV20</tspan><tspan x="509.6">11DEC20</tspan><tspan x="577.1">04FEB21</tspan></text></g>
<g id="t-25304"><text y="349.7"><tspan class="c" x="35.8">25304</tspan><tspan x="70.4">NBRW Slab Unit 3</tspan><tspan class="r" x="367.9">10</tspan><tspan class="c" x="388.3">1</tspan><tspan class="r" x="435">-10</tspan><tspan x="441.7">31DEC20</tspan><tspan x="509.6">14JAN21</tspan><tspan x="577.1">30DEC20</tspan></text></g>
<g id="t-25306"><text y="366.5"><tspan class="c" x="35.8">25306</tspan><tspan x="70.4">NBRW Slab Unit 4</tspan><tspan class="r" x="367.9">10</tspan><tspan class="c" x="388.3">1</tspan><tspan class="r" x="435">-10</tspan><tspan x="441.7">15JAN21</tspan><tspan x="509.6">28JAN21</tspan><tspan x="577.1">14JAN21</tspan></text></g>
<g id="t-25308"><text y="383.3"><tspan class="c" x="35.8">25308</tspan><tspan x="70.4">NBRW Slab Unit 5</tspan><tspan class="r" x="367.9">10</tspan><tspan class="c" x="388.3">1</tspan><tspan class="r" x="435">-10</tspan><tspan x="441.7">29JAN21</tspan><tspan x="509.6">11FEB21</tspan><tspan x="577.1">28JAN21</tspan></text></g>
<g id="t-25310"><text y="400.1"><tspan class="c" x="35.8">25310</tspan><tspan x="70.4">NBRW Slab Unit 6</tspan><tspan class="r" x="367.9">10</tspan><tspan class="c" x="388.3">1</tspan><tspan class="r" x="435">-10</tspan><tspan x="441.7">12FEB21</tspan><tspan x="509.6">25FEB21</tspan><tspan x="577.1">11FEB21</tspan></text></g>
<g id="t-1260"><text y="416.9"><tspan class="c" x="35.8">1260</tspan><tspan x="70.4">Traffic Handling, WB P1S2 to P2S1 (120-252+50)</tspan><tspan class="r" x="367.9">5</tspan><tspan class="c" x="388.3">1</tspan><tspan class="r" x="435">-10</tspan><tspan x="441.7">26FEB21</tspan><tspan x="509.6">04MAR21</tspan><tspan x="577.1">18FEB21</tspan></text></g>
<g id="t-10672"><text y="433.7"><tspan class="c" x="35.8">10672</tspan><tspan x="70.4">36" 24" SS Line "F" &amp; "K" - Install</tspan><tspan class="r" x="367.9">10</tspan><tspan class="c" x="388.3">1</tspan><tspan class="r" x="435">-10</tspan><tspan x="441.7">05MAR21</tspan><tspan x="509.6">18MAR21</tspan><tspan x="577.1">04MAR21</tspan></text></g>
<g id="t-10840"><text y="450.5"><tspan class="c" x="35.8">10840</tspan><tspan x="70.4">1-8'x6' &amp; 7-8'x4' MBC-Culv. "B" (203+65)</tspan><tspan class="r" x="367.9">20</tspan><tspan class="c" x="388.3">1</tspan><tspan class="r" x="435">-10</tspan><tspan x="441.7">05MAR21</tspan><tspan x="509.6">01APR21</tspan><tspan x="577.1">18MAR21</tspan></text></g>
<g id="t-10846"><text y="467.3"><tspan class="c" x="35.8">10846</tspan><tspan x="70.4">36" RCP-Line "O"</tspan><tspan class="r" x="367.9">10</tspan><tspan class="c" x="388.3">1</tspan><tspan class="r" x="435">-10</tspan><tspan x="441.7">19MAR21</tspan><tspan x="509.6">01APR21</tspan><tspan x="577.1">18MAR21</tspan></text></g>
<g id="t-4010"><text y="484.1"><tspan class="c" x="35.8">4010</tspan><tspan x="70.4">Operations Building</tspan><tspan class="r" x="367.9">210*</tspan><tspan class="c" x="388.3">1</tspan><tspan class="r" x="435">-1</tspan><tspan x="441.7">26MAR21</tspan><tspan x="509.6">13JAN22</tspan><tspan x="577.1">12JAN22</tspan></text></g>
<g id="t-10842"><text y="500.9"><tspan class="c" x="35.8">10842</tspan><tspan x="70.4">24" RCP- Culv's "E1-E4"</tspan><tspan class="r" x="367.9">5</tspan><tspan class="c" x="388.3">1</tspan><tspan class="r" x="435">-10</tspan><tspan x="441.7">02APR21</tspan><tspan x="509.6">08APR21</tspan><tspan x="577.1">25MAR21</tspan></text></g>
<g id="t-4570"><text y="517.7"><tspan class="c" x="35.8">4570</tspan><tspan x="70.4">Barrier Plaza</tspan><tspan class="r" x="367.9">204*</tspan><tspan class="c" x="388.3">1</tspan><tspan class="r" x="435">0</tspan><tspan x="441.7">02APR21</tspan><tspan x="509.6">12JAN22</tspan><tspan x="577.1">12JAN22</tspan></text></g>
<g id="t-10860"><text y="534.5"><tspan class="c" x="35.8">10860</tspan><tspan x="70.4">36" RCP-Line "N"</tspan><tspan class="r" x="367.9">5</tspan><tspan class="c" x="388.3">1</tspan><tspan class="r" x="435">-10</tspan><tspan x="441.7">09APR21</tspan><tspan x="509.6">15APR21</tspan><tspan x="577.1">01APR21</tspan></text></g>
</g>
</g>

<!-- table column lines and divider -->
<path d="M81 0V1080M405 0V1080M445.7 0V1080M486 0V1080M526.7 0V1080M607.7 0V1080M689 0V1080" stroke="#000" stroke-width="1" fill="none"/>
<rect x="771" y="0" width="6" height="1080" fill="#000"/>

<!-- ================= annotations ================= -->
<g id="note-interruptible"><text class="sf" x="1228" y="134" font-size="63">interruptible algorithm</text></g>
<g id="note-continuous"><text class="sf" x="1231" y="663.5" font-size="63">continuous algorithm</text></g>
<g id="note-top-float">
<rect x="767.5" y="152.5" width="397" height="99" fill="none" stroke="#ff0000" stroke-width="5"/>
<text class="sf" font-size="31.5"><tspan x="790.5" y="194">7 days float for 48” pipe</tspan><tspan x="790.5" y="231.7">-10 days float for pour caps</tspan></text>
</g>
<g id="note-disruptive">
<rect x="803" y="296" width="341" height="100" fill="none" stroke="#0000ff" stroke-width="5"/>
<text class="sf" font-size="31.5"><tspan x="825" y="337">disruptive durations of</tspan><tspan x="825" y="375">two causative events</tspan></text>
</g>
<g id="note-bottom-float">
<rect x="776" y="689" width="395" height="101.5" fill="none" stroke="#ff0000" stroke-width="5"/>
<text class="sf" font-size="31.5"><tspan x="796" y="731">-22 days float for 48” pipe</tspan><tspan x="796" y="769.5">-39 days float for pour caps</tspan></text>
</g>
<g id="callouts">
<ellipse cx="425" cy="138" rx="30" ry="27.5" fill="none" stroke="#0000ff" stroke-width="4"/>
<polyline points="425,162 458,312 803,312" fill="none" stroke="#0000ff" stroke-width="3.5" marker-start="url(#mB)"/>
<ellipse cx="505" cy="172" rx="28.5" ry="24.5" fill="none" stroke="#ff0000" stroke-width="4"/>
<line x1="767" y1="170" x2="537" y2="170" stroke="#ff0000" stroke-width="4" marker-end="url(#mR)"/>
<ellipse cx="513" cy="709.5" rx="29.5" ry="27.5" fill="none" stroke="#ff0000" stroke-width="4"/>
<line x1="776" y1="709.6" x2="547" y2="709.6" stroke="#ff0000" stroke-width="4" marker-end="url(#mR)"/>
</g>
<g id="icon" fill="none" stroke="#6f6f6f" stroke-opacity="0.75" stroke-width="2">
<path d="M14 2V54H54V2"/>
<path d="M14 12L3 19L14 26"/>
<rect x="25" y="5" width="4" height="35"/><rect x="33" y="5" width="4" height="35"/><rect x="43" y="5" width="4" height="35"/>
</g>
</svg>
